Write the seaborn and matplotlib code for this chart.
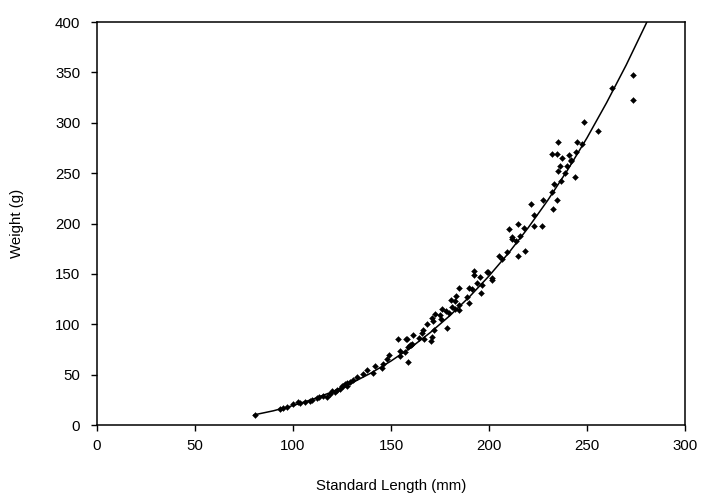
import matplotlib
matplotlib.use("Agg")
import matplotlib.pyplot as plt
import seaborn as sns
import pandas as pd

# Observed fish: standard length (mm) and weight (g)
length_mm = [
    80.5, 93.4, 95.0, 97.0, 100.2, 102.4, 103.6, 106.1, 108.7, 109.7,
    112.0, 113.4, 115.5, 117.2, 118.9, 119.7, 121.4, 122.3, 124.0, 124.8,
    125.7, 126.5, 127.4, 127.7, 129.0, 130.8, 132.5, 135.9, 137.6, 140.6,
    141.8, 145.2, 146.0, 147.8, 149.0, 154.6, 154.8, 153.7, 157.0, 157.6,
    158.5, 158.0, 158.8, 159.7, 160.0, 160.5, 161.4, 164.4, 166.0, 166.5,
    166.8, 168.5, 170.4, 170.8, 170.8, 171.6, 172.0, 172.4, 175.0, 175.7,
    176.0, 178.0, 178.4, 179.8, 180.6, 181.0, 182.7, 182.7, 183.3, 184.5,
    184.5, 184.9, 188.6, 189.8, 189.8, 191.2, 192.3, 192.3, 194.0, 195.4,
    196.0, 196.6, 198.8, 199.5, 201.4, 201.5, 205.3, 206.6, 209.0, 210.0,
    211.6, 211.7, 214.0, 214.8, 214.8, 215.8, 217.7, 218.2, 221.6, 223.0,
    223.0, 227.0, 227.4, 232.0, 232.0, 232.8, 233.0, 234.5, 234.7, 235.0,
    235.2, 236.0, 236.7, 237.0, 238.6, 240.0, 241.0, 241.7, 241.8, 243.7,
    244.4, 245.0, 247.3, 248.3, 255.6, 263.0, 273.6, 273.6,
]
weight_g = [
    10, 16, 17, 17.5, 20.5, 22.5, 21.5, 23, 24, 25,
    26.5, 27.5, 29, 27.5, 31, 34, 33, 35, 36, 39,
    38.7, 41, 41.4, 39, 43, 44.7, 48, 51, 54.6, 52,
    58.5, 57, 61, 66, 69.5, 73.5, 68.5, 85, 72, 85,
    63, 85, 77, 79, 79, 80, 89, 86, 91, 94,
    85, 100, 83.7, 87, 106, 103.5, 94, 110, 109, 105.5,
    115, 113, 96.6, 111, 124, 117, 123, 115, 128, 119,
    114, 136, 127, 121, 136, 135, 153, 149, 141, 147,
    131, 139, 152, 152, 144, 146, 168, 165, 172, 195,
    185, 187, 183, 200, 168, 188, 196, 173, 219, 208,
    198, 198, 223, 269, 231, 214, 239, 223, 269, 281,
    252, 257, 242, 265, 250, 257, 268, 263, 262, 246,
    271, 281, 279, 301, 292, 334, 347, 323,
]

# Fitted length-weight curve
fit_length = [80, 90, 100, 110, 120, 130, 140, 150, 160, 170, 180,
              190, 200, 210, 220, 230, 240, 250, 260, 270, 280, 285]
fit_weight = [10.0, 14.1, 19.3, 25.5, 32.9, 41.7, 51.8, 63.5, 76.7, 91.7,
              108.5, 127.2, 147.9, 170.7, 195.8, 223.1, 252.8, 285.0, 319.9,
              357.3, 397.7, 419.0]

x_ticks = [0, 50, 100, 150, 200, 250, 300]
y_ticks = [0, 50, 100, 150, 200, 250, 300, 350, 400]

obs = pd.DataFrame({"Standard Length (mm)": length_mm, "Weight (g)": weight_g})
fit = pd.DataFrame({"Standard Length (mm)": fit_length, "Weight (g)": fit_weight})

sns.set_style("ticks")
plt.rcParams["font.family"] = ["Liberation Sans", "DejaVu Sans"]

fig = plt.figure(figsize=(7.05, 4.98), dpi=100)
ax = fig.add_axes([97 / 705, 73 / 498, 588 / 705, 403 / 498])

sns.lineplot(data=fit, x="Standard Length (mm)", y="Weight (g)", ax=ax,
             color="black", linewidth=1.1, sort=True, estimator=None)
sns.scatterplot(data=obs, x="Standard Length (mm)", y="Weight (g)", ax=ax,
                color="black", marker="D", s=9, edgecolor="black", linewidth=0.3,
                zorder=3)

ax.set_xlim(0, 300)
ax.set_ylim(0, 400)
ax.set_xticks(x_ticks)
ax.set_yticks(y_ticks)
ax.tick_params(axis="both", direction="out", length=4, width=1, color="black",
               labelsize=10.8, labelcolor="black")
ax.tick_params(axis="y", pad=8)
ax.tick_params(axis="x", pad=6)
for sp in ax.spines.values():
    sp.set_visible(True)
    sp.set_color("black")
    sp.set_linewidth(1.1)
ax.set_xlabel("Standard Length (mm)", fontsize=10.8, color="black", labelpad=19)
ax.set_ylabel("Weight (g)", fontsize=10.8, color="black", labelpad=22)
ax.grid(False)

fig.savefig("out.png", dpi=100, facecolor="white")
